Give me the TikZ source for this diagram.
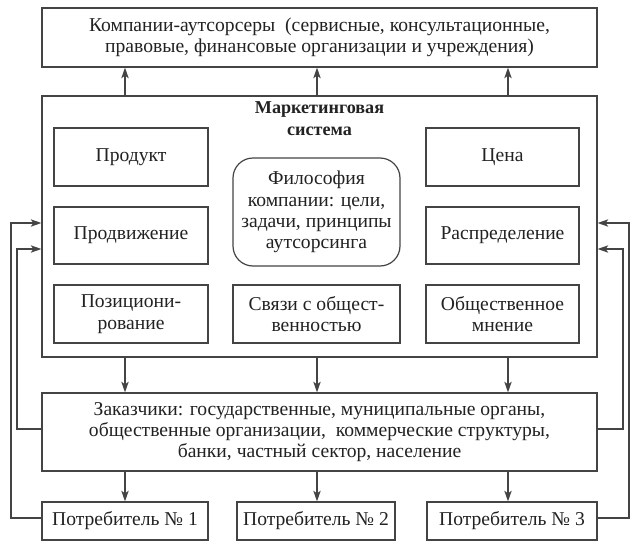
\documentclass[tikz,border=0pt]{standalone}
\usepackage{fontspec}
\setmainfont{Liberation Serif}
\usetikzlibrary{arrows.meta,calc}
\definecolor{ln}{HTML}{444444}
\definecolor{tx}{HTML}{222222}
\tikzset{
  box/.style={draw=ln, line width=0.9pt, rectangle, align=center, inner sep=0pt,
    text=tx, font=\fontsize{14.7}{16}\selectfont},
  arr/.style={draw=ln, line width=0.9pt, -{Stealth[length=8pt,width=5.5pt,inset=2pt]}},
  ln/.style={draw=ln, line width=0.9pt}
}
\begin{document}
\begin{tikzpicture}[x=0.75pt,y=-0.75pt]
\useasboundingbox (0,0) rectangle (640,550);
\fill[white] (0,0) rectangle (640,550);
% top
\node[box, minimum width=555*0.75pt, minimum height=59*0.75pt] (top) at (319.5,37.5)
  {Компании-аутсорсеры\ \ (сервисные, консультационные,\\правовые, финансовые организации и учреждения)};
% marketing system
\node[box, minimum width=555*0.75pt, minimum height=261*0.75pt] (mark) at (319.5,226.5) {};
\node[text=tx, align=center, font=\fontsize{13.6}{16.5}\selectfont\bfseries] (title) at (319.5,119) {Маркетинговая\\система};
\node[box, minimum width=154*0.75pt, minimum height=58*0.75pt] (prod) at (131,157) {Продукт};
\node[box, minimum width=154*0.75pt, minimum height=57*0.75pt] (prodv) at (131,235.5) {Продвижение};
\node[box, minimum width=154*0.75pt, minimum height=58*0.75pt] (pos) at (131,314) {Позициони-\\рование};
\node[box, rounded corners=15pt, minimum width=167*0.75pt, minimum height=108*0.75pt] (phil) at (316.5,212)
  {Философия\\компании: цели,\\задачи, принципы\\аутсорсинга};
\node[box, minimum width=167*0.75pt, minimum height=58*0.75pt] (svyaz) at (316.5,314) {Связи с общест-\\венностью};
\node[box, minimum width=153*0.75pt, minimum height=58*0.75pt] (price) at (502.5,157) {Цена};
\node[box, minimum width=153*0.75pt, minimum height=57*0.75pt] (distr) at (502.5,235.5) {Распределение};
\node[box, minimum width=153*0.75pt, minimum height=58*0.75pt] (opin) at (502.5,314) {Общественное\\мнение};
% customers
\node[box, minimum width=555*0.75pt, minimum height=78*0.75pt] (zak) at (319.5,432)
  {Заказчики: государственные, муниципальные органы,\\общественные организации,\ \ коммерческие структуры,\\банки, частный сектор, население};
% consumers
\node[box, minimum width=166*0.75pt, minimum height=38*0.75pt] (c1) at (125,521) {Потребитель № 1};
\node[box, minimum width=158*0.75pt, minimum height=38*0.75pt] (c2) at (316,521) {Потребитель № 2};
\node[box, minimum width=170*0.75pt, minimum height=38*0.75pt] (c3) at (512,521) {Потребитель № 3};
% vertical arrows
\foreach \x in {125,317,508}{
  \draw[arr] (mark.north -| \x,0) -- (top.south -| \x,0);
  \draw[arr] (mark.south -| \x,0) -- (zak.north -| \x,0);
}
\draw[arr] (zak.south -| c1) -- (c1.north);
\draw[arr] (zak.south -| 317,0) -- (c2.north -| 317,0);
\draw[arr] (zak.south -| 508,0) -- (c3.north -| 508,0);
% feedback loops
\coordinate (l1) at (11,223);
\coordinate (l2) at (17,249);
\coordinate (r1) at (629,223);
\coordinate (r2) at (623,249);
\draw[arr] (c1.west |- 0,518) -| (l1) -- (mark.west |- l1);
\draw[arr] (zak.west |- 0,429) -| (l2) -- (mark.west |- l2);
\draw[arr] (c3.east |- 0,518) -| (r1) -- (mark.east |- r1);
\draw[arr] (zak.east |- 0,429) -| (r2) -- (mark.east |- r2);
\end{tikzpicture}
\end{document}
